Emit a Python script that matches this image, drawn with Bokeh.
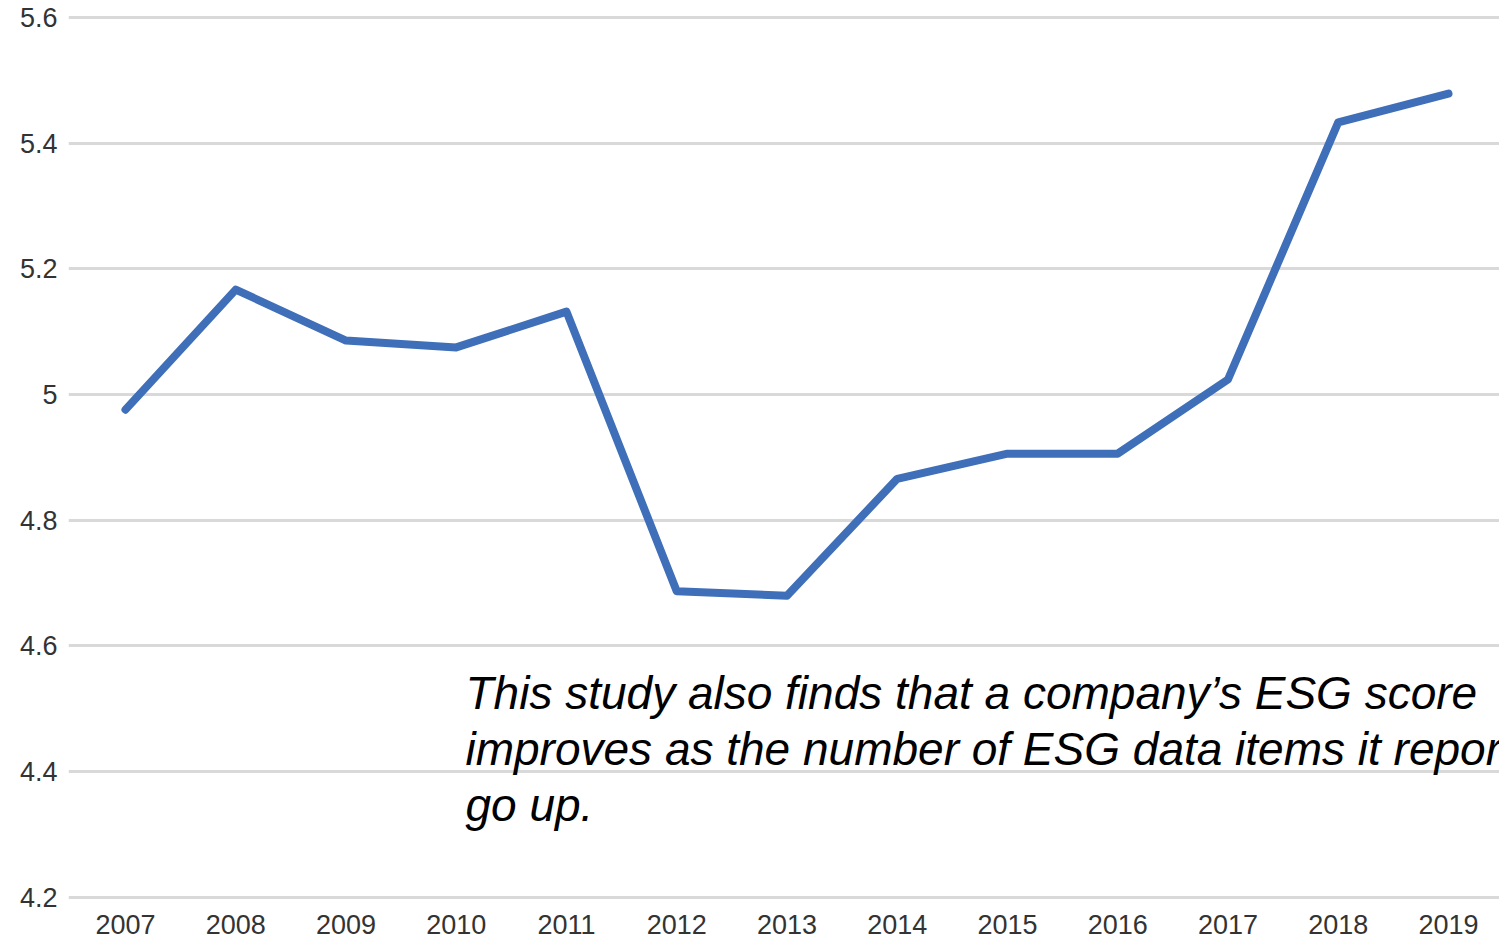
from bokeh.plotting import figure
from bokeh.models import Label, FixedTicker, Range1d
from bokeh.embed import file_html
from bokeh.resources import INLINE

years = [2007, 2008, 2009, 2010, 2011, 2012, 2013, 2014, 2015, 2016, 2017, 2018, 2019]
scores = [4.976, 5.167, 5.086, 5.075, 5.132, 4.687, 4.680, 4.866, 4.906, 4.906, 5.024, 5.433, 5.479]
y_ticks = [4.2, 4.4, 4.6, 4.8, 5.0, 5.2, 5.4, 5.6]
y_tick_labels = ["4.2", "4.4", "4.6", "4.8", "5", "5.2", "5.4", "5.6"]
note = ("This study also finds that a company\u2019s ESG score\n"
        "improves as the number of ESG data items it reports\n"
        "go up.")

p = figure(width=1499, height=942, output_backend="svg", toolbar_location=None,
           x_range=Range1d(2006.483, 2019.463), y_range=Range1d(4.195, 5.627),
           min_border_left=68, min_border_right=0, min_border_top=0, min_border_bottom=42)
p.outline_line_color = None
p.background_fill_color = "white"

p.xgrid.grid_line_color = None
p.ygrid.grid_line_color = "#d9d9d9"
p.ygrid.grid_line_width = 3

p.yaxis.ticker = FixedTicker(ticks=y_ticks)
p.yaxis.major_label_overrides = {t: l for t, l in zip(y_ticks, y_tick_labels)}
p.xaxis.ticker = FixedTicker(ticks=years)
for ax in (p.xaxis, p.yaxis):
    ax.axis_line_color = None
    ax.major_tick_line_color = None
    ax.minor_tick_line_color = None
    ax.major_tick_out = 0
    ax.major_tick_in = 0
    ax.major_label_text_font = "Liberation Sans"
    ax.major_label_text_font_size = "27px"
    ax.major_label_text_color = "#333333"
p.yaxis.major_label_standoff = 11
p.xaxis.major_label_standoff = 14

p.line(years, scores, line_color="#3f6fb8", line_width=8, line_cap="round", line_join="round")

lbl = Label(x=465 - 68, y=900 - 666, x_units="screen", y_units="screen", text=note,
            text_font="Liberation Sans", text_font_style="italic", text_font_size="46px",
            text_color="black", text_baseline="top", text_line_height=1.08)
p.add_layout(lbl)

open("out.html", "w").write(file_html(p, INLINE))
